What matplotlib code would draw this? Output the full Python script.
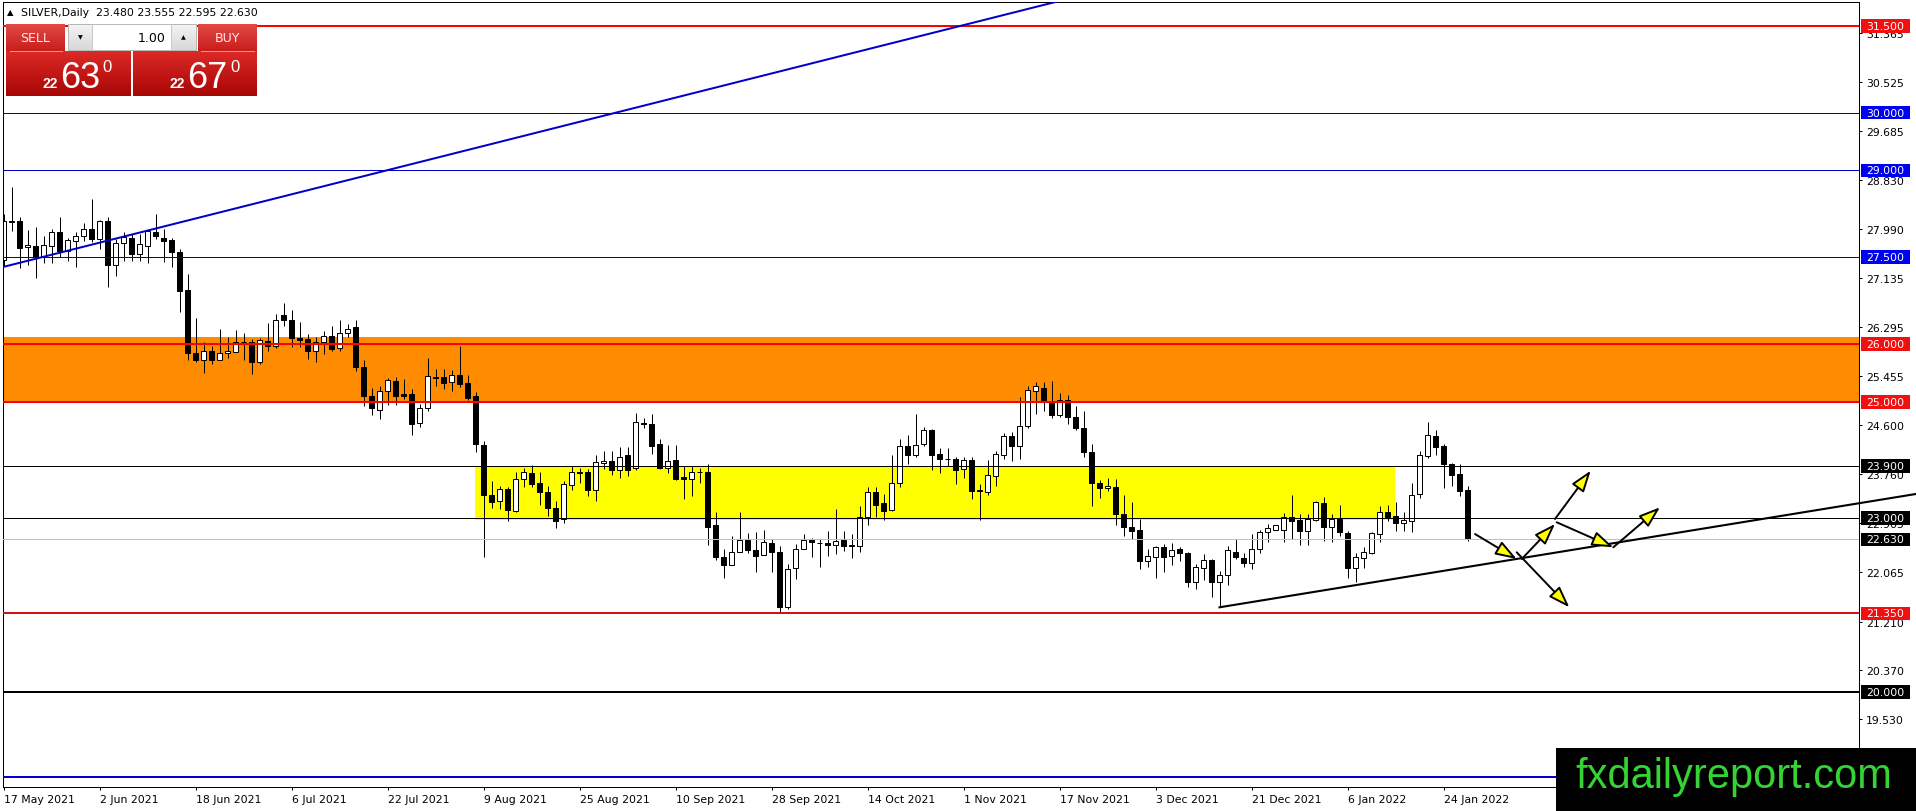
import numpy as np
import matplotlib
matplotlib.use("Agg")
import matplotlib.pyplot as plt
import matplotlib.transforms as mtransforms
from matplotlib.colors import to_rgb
from matplotlib.patches import Rectangle

plt.rcParams['font.family'] = ['DejaVu Sans']

W, H = 1916, 812

# SILVER daily candles, 17 May 2021 .. 27 Jan 2022
opens = [27.45, 28.12, 28.12, 27.67, 27.69, 27.50, 27.70, 27.94, 27.61, 27.79,
         27.86, 27.99, 27.82, 28.12, 27.37, 27.75, 27.83, 27.55, 27.70, 27.94,
         27.84, 27.80, 27.60, 26.93, 25.84, 25.73, 25.89, 25.73, 25.84, 25.87,
         26.04, 26.03, 25.70, 26.06, 25.97, 26.51, 26.42, 26.10, 26.09, 25.88,
         26.03, 26.14, 25.93, 26.19, 26.29, 25.61, 25.11, 24.87, 25.20, 25.36,
         25.14, 25.14, 24.64, 24.89, 25.44, 25.43, 25.34, 25.46, 25.33, 25.10,
         24.26, 23.40, 23.29, 23.50, 23.12, 23.68, 23.78, 23.60, 23.45, 23.18,
         22.98, 23.57, 23.79, 23.80, 23.48, 23.95, 23.99, 23.82, 24.09, 23.86,
         24.64, 24.63, 24.28, 23.87, 24.00, 23.70, 23.68, 23.80, 23.79, 22.87,
         22.32, 22.19, 22.42, 22.62, 22.45, 22.36, 22.56, 22.41, 21.46, 22.13,
         22.47, 22.62, 22.56, 22.57, 22.54, 22.62, 22.53, 22.51, 23.02, 23.45,
         23.25, 23.14, 23.61, 24.25, 24.09, 24.27, 24.52, 24.10, 24.02, 24.02,
         23.85, 24.00, 23.48, 23.45, 23.73, 24.09, 24.42, 24.25, 24.58, 25.20,
         25.25, 25.01, 24.77, 25.04, 24.74, 24.55, 24.13, 23.60, 23.51, 23.53,
         23.07, 22.84, 22.79, 22.26, 22.32, 22.49, 22.34, 22.46, 22.39, 21.90,
         22.13, 22.27, 21.89, 22.02, 22.42, 22.30, 22.22, 22.46, 22.75, 22.80,
         22.80, 23.01, 22.97, 22.78, 22.97, 23.25, 22.84, 22.98, 22.74, 22.13,
         22.30, 22.39, 22.73, 23.10, 23.03, 22.92, 22.95, 23.41, 24.07, 24.41,
         24.25, 23.93, 23.76, 23.48]
highs = [28.25, 28.71, 28.19, 27.97, 28.02, 27.87, 27.99, 28.19, 27.84, 27.94,
         28.10, 28.51, 28.15, 28.19, 27.82, 27.93, 27.90, 27.90, 27.99, 28.25,
         27.99, 27.84, 27.64, 27.21, 26.45, 26.03, 25.97, 26.26, 26.12, 26.25,
         26.19, 26.09, 26.10, 26.36, 26.52, 26.72, 26.59, 26.39, 26.18, 26.12,
         26.23, 26.31, 26.41, 26.35, 26.41, 25.72, 25.24, 25.27, 25.42, 25.43,
         25.40, 25.23, 24.97, 25.76, 25.58, 25.58, 25.56, 25.97, 25.46, 25.17,
         24.32, 23.64, 23.56, 23.53, 23.79, 23.86, 23.92, 23.79, 23.56, 23.30,
         23.64, 23.90, 23.87, 23.85, 24.08, 24.16, 24.16, 24.22, 24.22, 24.82,
         24.72, 24.79, 24.36, 24.26, 24.26, 23.90, 23.90, 23.87, 23.93, 23.10,
         22.47, 22.68, 23.10, 22.74, 22.75, 22.80, 22.64, 22.51, 22.20, 22.55,
         22.72, 22.65, 22.64, 22.77, 23.15, 22.77, 22.72, 23.21, 23.53, 23.54,
         23.41, 24.09, 24.37, 24.44, 24.80, 24.57, 24.54, 24.21, 24.21, 24.05,
         24.05, 24.05, 23.59, 24.00, 24.16, 24.47, 24.48, 25.08, 25.27, 25.34,
         25.34, 25.36, 25.16, 25.12, 24.93, 24.85, 24.28, 23.66, 23.69, 23.68,
         23.40, 23.27, 22.98, 22.46, 22.52, 22.55, 22.56, 22.49, 22.42, 22.21,
         22.38, 22.29, 22.08, 22.52, 22.64, 22.39, 22.73, 22.80, 22.90, 22.88,
         23.09, 23.40, 23.07, 23.06, 23.30, 23.36, 23.07, 23.22, 22.78, 22.39,
         22.49, 22.76, 23.20, 23.22, 23.27, 23.10, 23.60, 24.16, 24.65, 24.52,
         24.28, 23.94, 23.93, 23.555]
lows = [27.35, 27.96, 27.31, 27.36, 27.14, 27.40, 27.40, 27.50, 27.44, 27.34,
        27.79, 27.77, 27.64, 26.98, 27.17, 27.43, 27.44, 27.44, 27.41, 27.82,
        27.42, 27.34, 26.55, 25.72, 25.70, 25.50, 25.66, 25.72, 25.77, 25.86,
        25.73, 25.49, 25.66, 25.89, 25.93, 26.32, 25.96, 25.96, 25.75, 25.70,
        25.83, 25.89, 25.89, 26.12, 25.54, 24.94, 24.77, 24.70, 24.95, 24.95,
        25.05, 24.43, 24.57, 24.85, 25.27, 25.23, 25.20, 25.26, 25.03, 24.145,
        22.32, 23.17, 23.16, 22.95, 23.10, 23.53, 23.53, 23.22, 23.04, 22.82,
        22.92, 23.48, 23.61, 23.38, 23.30, 23.85, 23.74, 23.69, 23.72, 23.82,
        24.56, 24.10, 23.84, 23.78, 23.66, 23.33, 23.38, 23.61, 22.54, 22.27,
        21.96, 22.19, 22.42, 22.39, 22.06, 22.36, 22.06, 21.38, 21.42, 21.94,
        22.47, 22.32, 22.16, 22.34, 22.38, 22.43, 22.30, 22.42, 22.87, 23.02,
        22.96, 23.12, 23.53, 23.93, 24.05, 24.24, 23.82, 23.78, 23.90, 23.59,
        23.69, 23.33, 22.97, 23.39, 23.56, 24.01, 23.98, 24.01, 24.55, 24.79,
        24.85, 24.72, 24.75, 24.63, 24.51, 24.06, 23.21, 23.34, 23.47, 22.87,
        22.69, 22.63, 22.12, 22.15, 21.97, 22.06, 22.18, 22.25, 21.80, 21.77,
        21.92, 21.63, 21.46, 21.85, 22.29, 22.15, 22.12, 22.40, 22.59, 22.80,
        22.59, 22.64, 22.54, 22.54, 22.95, 22.61, 22.59, 22.68, 21.96, 21.89,
        22.13, 22.38, 22.59, 22.94, 22.77, 22.78, 22.75, 23.34, 24.03, 24.09,
        23.51, 23.55, 23.38, 22.595]
closes = [28.13, 28.11, 27.66, 27.71, 27.51, 27.71, 27.93, 27.61, 27.80, 27.86,
          27.99, 27.82, 28.12, 27.37, 27.75, 27.85, 27.55, 27.73, 27.96, 27.86,
          27.79, 27.60, 26.92, 25.84, 25.73, 25.89, 25.73, 25.85, 25.89, 26.04,
          26.03, 25.70, 26.08, 25.97, 26.41, 26.41, 26.10, 26.08, 25.88, 26.03,
          26.14, 25.92, 26.19, 26.27, 25.60, 25.10, 24.89, 25.20, 25.38, 25.11,
          25.10, 24.62, 24.89, 25.45, 25.42, 25.33, 25.46, 25.31, 25.07, 24.27,
          23.39, 23.28, 23.50, 23.13, 23.68, 23.79, 23.58, 23.45, 23.18, 22.95,
          23.59, 23.80, 23.77, 23.48, 23.96, 23.99, 23.83, 24.06, 23.83, 24.65,
          24.63, 24.25, 23.86, 23.98, 23.68, 23.68, 23.80, 23.79, 22.85, 22.33,
          22.19, 22.42, 22.62, 22.45, 22.35, 22.58, 22.41, 21.46, 22.12, 22.47,
          22.62, 22.58, 22.56, 22.54, 22.60, 22.52, 22.51, 23.02, 23.45, 23.23,
          23.12, 23.60, 24.24, 24.09, 24.26, 24.52, 24.09, 24.01, 24.02, 23.82,
          24.00, 23.47, 23.46, 23.74, 24.11, 24.41, 24.25, 24.58, 25.21, 25.27,
          25.03, 24.78, 25.04, 24.74, 24.56, 24.13, 23.61, 23.51, 23.55, 23.06,
          22.84, 22.78, 22.26, 22.34, 22.49, 22.32, 22.45, 22.39, 21.90, 22.15,
          22.27, 21.89, 22.02, 22.44, 22.32, 22.22, 22.46, 22.75, 22.82, 22.88,
          23.01, 22.95, 22.78, 22.98, 23.27, 22.84, 22.99, 22.75, 22.13, 22.32,
          22.41, 22.74, 23.10, 23.02, 22.91, 22.96, 23.40, 24.08, 24.43, 24.23,
          23.93, 23.74, 23.47, 22.63]

date_ticks = [0, 12, 24, 36, 48, 60, 72, 84, 96, 108, 120, 132, 144, 156, 168, 180]
date_labels = ["17 May 2021", "2 Jun 2021", "18 Jun 2021", "6 Jul 2021", "22 Jul 2021",
               "9 Aug 2021", "25 Aug 2021", "10 Sep 2021", "28 Sep 2021", "14 Oct 2021",
               "1 Nov 2021", "17 Nov 2021", "3 Dec 2021", "21 Dec 2021", "6 Jan 2022",
               "24 Jan 2022"]

price_ticks = [31.365, 30.525, 29.685, 28.830, 27.990, 27.135, 26.295, 25.455,
               24.600, 23.760, 22.905, 22.065, 21.210, 20.370, 19.530]

# horizontal levels
levels = [31.5, 30.0, 29.0, 27.5, 26.0, 25.0, 23.9, 23.0, 22.63, 21.35, 20.0, 18.53]
level_colors = ['#ff0000', '#0000c8', '#0000c8', '#0000c8', '#ff0000', '#ff0000',
                'black', 'black', '#c0c0c0', '#cc1414', 'black', '#0000d0']
level_widths = [2, 1, 1, 1, 2, 2, 1, 1, 1, 2, 2, 2]
level_boxes = ['#f01010', '#0000f0', '#0000f0', '#0000f0', '#f01010', '#f01010',
               'black', 'black', 'black', '#f01010', 'black', None]

orange_zone = (24.98, 26.13)
yellow_zone = (58.9, 173.9, 22.96, 23.9)

blue_trend = [(-0.1, 27.332), (38.31, 28.668)]
black_trend = [(152.0, 21.457), (187.06, 22.245)]

arrows = [((183.94, 22.722), (189.15, 22.291)),
          ((189.78, 22.291), (193.94, 22.896)),
          ((193.94, 22.982), (198.40, 23.816)),
          ((189.15, 22.407), (195.73, 21.457)),
          ((194.15, 22.925), (201.23, 22.493)),
          ((201.23, 22.493), (207.06, 23.184))]

PX = 0.72  # one pixel in points

fig = plt.figure(figsize=(W / 100, H / 100), dpi=100, facecolor='white')


def px_axes(x0, y0, x1, y1, **kw):
    return fig.add_axes([x0 / W, 1 - y1 / H, (x1 - x0) / W, (y1 - y0) / H], **kw)


ax = px_axes(2.7, 2.7, 1859, 788)
ax.set_xlim(-0.1, (1859 - 3.5) / 8)
ax.set_ylim(18.354, 31.914)
ax.set_facecolor('white')

# zones
ax.axhspan(orange_zone[0], orange_zone[1], color='#ff8c00', lw=0, zorder=0)
ax.add_patch(Rectangle((yellow_zone[0], yellow_zone[2]), yellow_zone[1] - yellow_zone[0],
                       yellow_zone[3] - yellow_zone[2], fc='#ffff00', ec='none', zorder=0))

# candles
idx = np.arange(len(opens))
o = np.array(opens); c = np.array(closes)
ax.vlines(idx, lows, highs, color='black', lw=PX, zorder=2)
up = c >= o
body = np.maximum(np.abs(c - o), 0.004)
ax.bar(idx[up], body[up], bottom=np.minimum(o, c)[up], width=0.55,
       color='white', edgecolor='black', linewidth=PX, zorder=2.5)
ax.bar(idx[~up], body[~up], bottom=np.minimum(o, c)[~up], width=0.55,
       color='black', edgecolor='black', linewidth=PX, zorder=2.5)

# levels
for lv, col, lw in zip(levels, level_colors, level_widths):
    ax.axhline(lv, color=col, lw=lw * PX, zorder=3)

# trendlines
(bx0, by0), (bx1, by1) = blue_trend
bs = (by1 - by0) / (bx1 - bx0)
ax.plot([bx0, 140], [by0, by0 + bs * (140 - bx0)], color='#0000c8', lw=2 * PX, zorder=4)

(kx0, ky0), (kx1, ky1) = black_trend
ks = (ky1 - ky0) / (kx1 - kx0)
kx_end = (W - 3.5) / 8
ax.plot([kx0, kx_end], [ky0, ky0 + ks * (kx_end - kx0)], color='black', lw=1.5,
        zorder=4, clip_on=False)

for start, end in arrows:
    ax.annotate('', xy=end, xytext=start, annotation_clip=False, zorder=5,
                arrowprops=dict(arrowstyle='-|>,head_length=1.3,head_width=0.45',
                                fc='#ffff00', ec='black', lw=1.4, mutation_scale=10,
                                shrinkA=0, shrinkB=0))

# axes styling
for sp in ax.spines.values():
    sp.set_color('black')
    sp.set_linewidth(PX)
ax.yaxis.tick_right()
ax.set_yticks(price_ticks)
ax.set_yticklabels([f'{v:.3f}' for v in price_ticks])
ax.tick_params(axis='y', length=2.2, width=PX, pad=2.9, labelsize=7.8)
ax.set_xticks(date_ticks)
ax.set_xticklabels(date_labels, ha='left')
ax.tick_params(axis='x', length=2.2, width=PX, pad=2.5, labelsize=7.8)

# price boxes on the scale
trans = mtransforms.blended_transform_factory(ax.transAxes, ax.transData)
axw = 1859 - 2.7
for lv, bc in zip(levels, level_boxes):
    if bc is None:
        continue
    ax.add_patch(Rectangle(((1861 - 2.7) / axw, lv - 0.118), 49 / axw, 0.236,
                           transform=trans, fc=bc, ec='none', clip_on=False, zorder=6))
    ax.text((1866 - 2.7) / axw, lv, f'{lv:.3f}', transform=trans, color='white',
            fontsize=7.8, va='center', ha='left', clip_on=False, zorder=7)

# overlay: header, trade panel, watermark
ov = fig.add_axes([0, 0, 1, 1], zorder=10)
ov.axis('off')


def grad_box(x0, y0, x1, y1, ctop, cbot):
    t = np.linspace(0, 1, 40)[:, None, None]
    img = np.array(to_rgb(ctop))[None, None, :] * (1 - t) + np.array(to_rgb(cbot))[None, None, :] * t
    ov.imshow(img, extent=(x0, x1, y1, y0), origin='upper', aspect='auto',
              interpolation='bilinear', zorder=2)


ov.text(7, 13, '\u25B2', fontsize=6, va='center', ha='left')
ov.text(21, 13, 'SILVER,Daily  %.3f %.3f %.3f %.3f' % (opens[-1], highs[-1], lows[-1], closes[-1]),
        fontsize=7.8, va='center', ha='left')

# sell / buy panel
grad_box(6, 25, 65, 52, '#e24a44', '#c81e1e')
grad_box(198, 25, 257, 52, '#e24a44', '#c81e1e')
grad_box(6, 52, 131, 97, '#dc2a26', '#a80606')
grad_box(133, 52, 257, 97, '#dc2a26', '#a80606')
ov.plot([10, 62], [51.5, 51.5], color='#f09090', lw=PX, zorder=3)
ov.plot([201, 254], [51.5, 51.5], color='#f09090', lw=PX, zorder=3)
ov.text(35.5, 38.5, 'SELL', color='#ffeaea', fontsize=9, ha='center', va='center', zorder=4)
ov.text(227.5, 38.5, 'BUY', color='#ffeaea', fontsize=9, ha='center', va='center', zorder=4)

grad_box(68, 25, 92, 51, '#f4f4f4', '#d8d8d8')
grad_box(171, 25, 196, 51, '#f4f4f4', '#d8d8d8')
ov.add_patch(Rectangle((92, 25), 79, 26, fc='white', ec='none', zorder=2))
ov.add_patch(Rectangle((68, 25), 128, 26, fc='none', ec='#b8b8b8', lw=PX, zorder=3))
ov.plot([92, 92], [25, 51], color='#c8c8c8', lw=PX, zorder=3)
ov.plot([171, 171], [25, 51], color='#c8c8c8', lw=PX, zorder=3)
ov.text(80, 38, '\u25BC', fontsize=4.5, ha='center', va='center', zorder=4)
ov.text(183.5, 38, '\u25B2', fontsize=4.5, ha='center', va='center', zorder=4)
ov.text(166, 38, '1.00', fontsize=9, ha='right', va='center', zorder=4)

big = dict(color='white', family='Liberation Sans', zorder=4)
ov.text(58, 88, '22', fontsize=10, fontweight='bold', ha='right', va='baseline', **big)
ov.text(60, 88, '63', fontsize=26, ha='left', va='baseline', **big)
ov.text(102, 72, '0', fontsize=12, ha='left', va='baseline', **big)
ov.text(185, 88, '22', fontsize=10, fontweight='bold', ha='right', va='baseline', **big)
ov.text(187, 88, '67', fontsize=26, ha='left', va='baseline', **big)
ov.text(230, 72, '0', fontsize=12, ha='left', va='baseline', **big)

# watermark
ov.add_patch(Rectangle((1556, 749), 360, 63, fc='black', ec='none', zorder=2))
ov.text(1734, 777, 'fxdailyreport.com', color='#33d433', fontsize=30,
        family='Liberation Sans', ha='center', va='center', zorder=3)

ov.set_xlim(0, W)
ov.set_ylim(H, 0)

fig.savefig('out.png', dpi=100, facecolor='white')
